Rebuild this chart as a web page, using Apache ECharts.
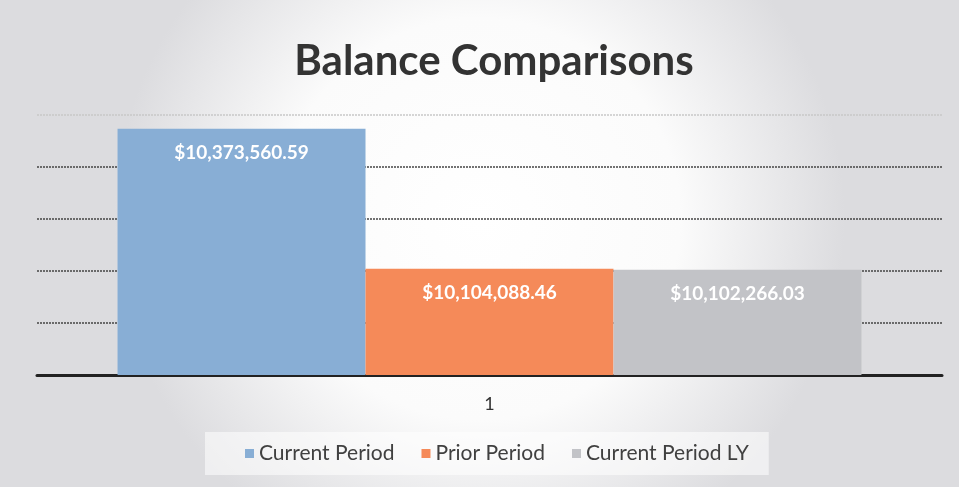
<!DOCTYPE html>
<html><head><meta charset="utf-8">
<script src="https://cdn.jsdelivr.net/npm/echarts@6/dist/echarts.min.js"></script>
<style>html,body{margin:0;padding:0;background:#fff}#c{width:959px;height:487px}</style>
</head><body><div id="c"></div>
<script>
const categories = ['1'];
const seriesNames = ['Current Period', 'Prior Period', 'Current Period LY'];
const currentPeriod = [10373560.59];
const priorPeriod = [10104088.46];
const currentPeriodLY = [10102266.03];
const seriesValues = [currentPeriod, priorPeriod, currentPeriodLY];
const colors = ['#88aed5', '#f58a59', '#c2c3c7'];
const fmt = v => '$' + v.toLocaleString('en-US', {minimumFractionDigits: 2, maximumFractionDigits: 2});
const FONT = 'Lato, "Open Sans", sans-serif';

const chart = echarts.init(document.getElementById('c'));
chart.setOption({
  backgroundColor: {
    type: 'radial', x: 0.5, y: 0.45, r: 0.75,
    colorStops: [{offset: 0, color: '#ffffff'}, {offset: 0.55, color: '#fbfbfb'}, {offset: 1, color: '#dcdcdf'}]
  },
  title: {
    text: 'Balance Comparisons', left: 489, textAlign: 'center', top: 35,
    textStyle: {fontFamily: FONT, fontSize: 42, fontWeight: 'bold', color: '#333'}
  },
  legend: {
    bottom: 12, left: 205, itemWidth: 9, itemHeight: 9, itemGap: 27,
    icon: 'rect', backgroundColor: 'rgba(255,255,255,0.55)', padding: [11, 20, 11, 40],
    textStyle: {fontFamily: FONT, fontSize: 21, color: '#404040'},
    data: seriesNames
  },
  grid: {left: 37, right: 17, top: 115, bottom: 112},
  xAxis: {
    type: 'category', data: categories,
    axisLine: {lineStyle: {color: '#222', width: 3}},
    axisTick: {show: false},
    axisLabel: {fontFamily: FONT, fontSize: 18, color: '#333', margin: 20}
  },
  yAxis: {
    type: 'value', min: 9900000, max: 10400000, interval: 100000,
    axisLabel: {show: false}, axisLine: {show: false}, axisTick: {show: false},
    splitLine: {lineStyle: {color: ['#444', '#444', '#444', '#444', '#444', '#c8c8c8'], type: [2, 1], width: 1.5}}
  },
  series: seriesValues.map((vals, i) => ({
    name: seriesNames[i], type: 'bar', data: vals,
    barGap: '0%', barCategoryGap: '17.8%',
    itemStyle: {color: colors[i]},
    label: {
      show: true, position: 'insideTop', distance: 15, formatter: p => fmt(p.value),
      fontFamily: FONT, fontSize: 19, fontWeight: 'bold', color: '#fff'
    }
  }))
});
</script></body></html>
